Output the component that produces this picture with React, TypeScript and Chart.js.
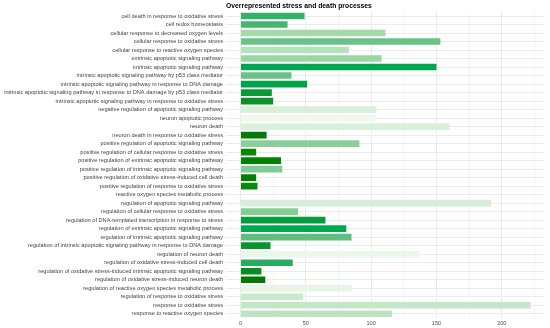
import React, { useEffect, useRef } from 'react';
import { Chart, registerables } from 'chart.js';
Chart.register(...registerables);

const chartTitle = 'Overrepresented stress and death processes';

const categories = [
  'cell death in response to oxidative stress',
  'cell redox homeostasis',
  'cellular response to decreased oxygen levels',
  'cellular response to oxidative stress',
  'cellular response to reactive oxygen species',
  'extrinsic apoptotic signaling pathway',
  'intrinsic apoptotic signaling pathway',
  'intrinsic apoptotic signaling pathway by p53 class mediator',
  'intrinsic apoptotic signaling pathway in response to DNA damage',
  'intrinsic apoptotic signaling pathway in response to DNA damage by p53 class mediator',
  'intrinsic apoptotic signaling pathway in response to oxidative stress',
  'negative regulation of apoptotic signaling pathway',
  'neuron apoptotic process',
  'neuron death',
  'neuron death in response to oxidative stress',
  'positive regulation of apoptotic signaling pathway',
  'positive regulation of cellular response to oxidative stress',
  'positive regulation of extrinsic apoptotic signaling pathway',
  'positive regulation of intrinsic apoptotic signaling pathway',
  'positive regulation of oxidative stress-induced cell death',
  'positive regulation of response to oxidative stress',
  'reactive oxygen species metabolic process',
  'regulation of apoptotic signaling pathway',
  'regulation of cellular response to oxidative stress',
  'regulation of DNA-templated transcription in response to stress',
  'regulation of extrinsic apoptotic signaling pathway',
  'regulation of intrinsic apoptotic signaling pathway',
  'regulation of intrinsic apoptotic signaling pathway in response to DNA damage',
  'regulation of neuron death',
  'regulation of oxidative stress-induced cell death',
  'regulation of oxidative stress-induced intrinsic apoptotic signaling pathway',
  'regulation of oxidative stress-induced neuron death',
  'regulation of reactive oxygen species metabolic process',
  'regulation of response to oxidative stress',
  'response to oxidative stress',
  'response to reactive oxygen species',
];

const geneCounts = [
  49, 36, 111, 153, 83, 108, 150, 39, 51, 24, 25, 104,
  104, 160, 20, 91, 12, 31, 32, 12, 13, 0, 192, 44,
  65, 81, 85, 23, 137, 40, 16, 19, 85, 48, 222, 116,
];

const barColors = [
  '#35b267', '#45b570', '#a3d9ab', '#6cc187', '#b5e1bb', '#9ad5a5',
  '#00a651', '#6ec08a', '#00a34a', '#0a9a35', '#0b9225', '#d9efd9',
  '#eef8ee', '#dbf0db', '#037d07', '#8acf9a', '#058805', '#018301',
  '#7ecb93', '#038003', '#068a0a', '#ffffff', '#d6eed6', '#85cc95',
  '#049c3c', '#00a84e', '#5fbd80', '#089530', '#ebf7eb', '#28ad5e',
  '#078e1c', '#027a02', '#e7f5e7', '#c9e9cc', '#c5e7c9', '#bde3c2',
];

const xGridValues = [0, 25, 50, 75, 100, 125, 150, 175, 200, 225];
const xTickLabels = [0, 50, 100, 150, 200];

const FONT = '"Liberation Sans", Arial, Helvetica, sans-serif';

export default function App() {
  const ref = useRef<HTMLCanvasElement>(null);
  useEffect(() => {
    if (!ref.current) return;
    const titlePlugin = {
      id: 'customTitle',
      afterDraw(chart: any) {
        const ctx = chart.ctx;
        ctx.save();
        ctx.font = `bold 6.8px ${FONT}`;
        ctx.fillStyle = '#000000';
        ctx.textAlign = 'left';
        ctx.textBaseline = 'middle';
        ctx.fillText(chartTitle, 226, 6);
        ctx.restore();
      },
    };
    const chart = new Chart(ref.current, {
      type: 'bar',
      data: {
        labels: categories,
        datasets: [
          {
            data: geneCounts,
            backgroundColor: barColors,
            barPercentage: 0.78,
            categoryPercentage: 1,
            borderWidth: 0,
          },
        ],
      },
      options: {
        indexAxis: 'y',
        animation: false,
        responsive: false,
        maintainAspectRatio: false,
        layout: { padding: { top: 11.75, right: 5, bottom: 0, left: 0 } },
        plugins: {
          legend: { display: false },
          tooltip: { enabled: false },
          title: { display: false },
        },
        scales: {
          x: {
            type: 'linear',
            min: -11.1,
            max: 233.1,
            afterBuildTicks: (s: any) => {
              s.ticks = xGridValues.map((v) => ({ value: v }));
            },
            afterFit: (s: any) => {
              s.height = 10;
            },
            ticks: {
              callback: (v: any) => (xTickLabels.includes(Number(v)) ? String(v) : ''),
              font: { size: 5.5, family: FONT },
              color: '#4d4d4d',
              padding: 2,
              maxRotation: 0,
              autoSkip: false,
            },
            grid: {
              color: '#ebebeb',
              drawTicks: false,
              lineWidth: (c: any) => (c.tick && c.tick.value % 50 === 0 ? 1 : 0.5),
            },
            border: { display: false },
          },
          y: {
            afterFit: (s: any) => {
              s.width = 226;
            },
            ticks: {
              font: { size: 5.65, family: FONT },
              color: '#444444',
              padding: 3,
              autoSkip: false,
            },
            grid: { color: '#ebebeb', offset: false, drawTicks: false, lineWidth: 1 },
            border: { display: false },
          },
        },
      },
      plugins: [titlePlugin],
    });
    return () => chart.destroy();
  }, []);
  return (
    <div style={{ position: 'fixed', left: 0, top: 0, width: 550, height: 328, background: '#ffffff' }}>
      <canvas ref={ref} width={550} height={328} style={{ display: 'block', width: 550, height: 328 }} />
    </div>
  );
}
